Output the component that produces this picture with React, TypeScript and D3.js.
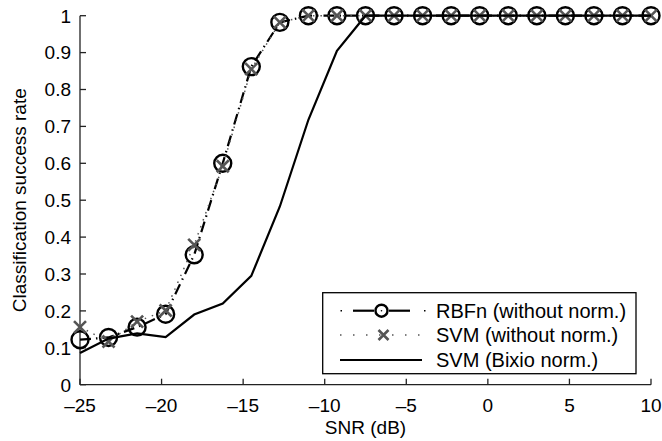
import React from "react";
import * as d3 from "d3";

const snr = [-25, -23.25, -21.5, -19.75, -18, -16.25, -14.5, -12.75, -11, -9.25, -7.5, -5.75, -4, -2.25, -0.5, 1.25, 3, 4.75, 6.5, 8.25, 10];
const rbfn = [0.122, 0.128, 0.156, 0.191, 0.352, 0.6, 0.862, 0.982, 1, 1, 1, 1, 1, 1, 1, 1, 1, 1, 1, 1, 1];
const svmRaw = [0.156, 0.117, 0.171, 0.201, 0.379, 0.592, 0.855, 0.982, 1, 1, 1, 1, 1, 1, 1, 1, 1, 1, 1, 1, 1];
const svmBixio = [0.086, 0.125, 0.139, 0.129, 0.19, 0.22, 0.295, 0.483, 0.718, 0.905, 1, 1, 1, 1, 1, 1, 1, 1, 1, 1, 1];
const xTicks = [-25, -20, -15, -10, -5, 0, 5, 10];
const yTicks = [0, 0.1, 0.2, 0.3, 0.4, 0.5, 0.6, 0.7, 0.8, 0.9, 1];
const legendLabels = ["RBFn (without norm.)", "SVM (without norm.)", "SVM (Bixio norm.)"];

const W = 662, H = 441;
const L = 80, R = 651, T = 15.7, B = 384.7;
const FONT = "'Liberation Sans', Arial, Helvetica, sans-serif";

const fmtX = (v: number) => (v < 0 ? "\u2013" + Math.abs(v) : String(v));
const fmtY = (v: number) => (v === 0 ? "0" : v === 1 ? "1" : d3.format(".1f")(v));

export default function App() {
  const x = d3.scaleLinear().domain([-25, 10]).range([L, R]);
  const y = d3.scaleLinear().domain([0, 1]).range([B, T]);
  const line = d3.line<number>().x((_, i) => x(snr[i])).y((d) => y(d));
  const gray = "#555";
  const xm = 6;
  const crossPath = (cx: number, cy: number, s: number) =>
    `M${cx - s},${cy - s}L${cx + s},${cy + s}M${cx - s},${cy + s}L${cx + s},${cy - s}`;

  const lx0 = 340, lx1 = 422, lmid = 381.5;
  const rows = [310.7, 335, 360];

  return (
    <svg width={W} height={H} style={{ position: "absolute", left: 0, top: 0, background: "#fff" }} fontFamily={FONT}>
      {/* axes */}
      <g stroke="#222" strokeWidth={1.3} fill="none">
        <line x1={L} y1={B} x2={R} y2={B} />
        <line x1={L} y1={B} x2={L} y2={T} />
        {xTicks.map((t) => (
          <line key={"xt" + t} x1={x(t)} x2={x(t)} y1={B} y2={B - 6} />
        ))}
        {yTicks.map((t) => (
          <line key={"yt" + t} x1={L} x2={L + 6} y1={y(t)} y2={y(t)} />
        ))}
      </g>
      <g fontSize={19} fill="#000">
        {xTicks.map((t) => (
          <text key={"xl" + t} x={x(t)} y={412} textAnchor="middle">{fmtX(t)}</text>
        ))}
        {yTicks.map((t) => (
          <text key={"yl" + t} x={71} y={y(t) + 6.8} textAnchor="end">{fmtY(t)}</text>
        ))}
        <text x={(L + R) / 2} y={434} textAnchor="middle">SNR (dB)</text>
        <text transform={`translate(26,${(T + B) / 2}) rotate(-90)`} textAnchor="middle">Classification success rate</text>
      </g>

      {/* RBFn dash-dot with circles */}
      <path d={line(rbfn) || ""} fill="none" stroke="#000" strokeWidth={2.2} strokeDasharray="11,5,1.5,5" />
      {rbfn.map((v, i) => (
        <circle key={"c" + i} cx={x(snr[i])} cy={y(v)} r={8.5} fill="none" stroke="#000" strokeWidth={2.4} />
      ))}
      {/* SVM without norm: dotted gray with crosses */}
      <path d={line(svmRaw) || ""} fill="none" stroke={gray} strokeWidth={1.5} strokeDasharray="1.5,6" />
      {svmRaw.map((v, i) => (
        <path key={"x" + i} d={crossPath(x(snr[i]), y(v), xm)} stroke={gray} strokeWidth={2.6} fill="none" />
      ))}
      {/* SVM Bixio: solid */}
      <path d={line(svmBixio) || ""} fill="none" stroke="#000" strokeWidth={2.2} />

      {/* legend */}
      <rect x={322.7} y={292.7} width={313.3} height={81} fill="#fff" stroke="#000" strokeWidth={1.3} />
      <g stroke="#000" strokeWidth={2.2}>
        <line x1={340.5} x2={342} y1={rows[0]} y2={rows[0]} strokeWidth={1.5} />
        <line x1={353} x2={374} y1={rows[0]} y2={rows[0]} />
        <line x1={389} x2={410} y1={rows[0]} y2={rows[0]} />
        <line x1={424} x2={425.5} y1={rows[0]} y2={rows[0]} strokeWidth={1.5} />
      </g>
      <circle cx={lmid} cy={rows[0]} r={6} fill="#fff" stroke="#000" strokeWidth={2.4} />
      <circle cx={lmid} cy={rows[0]} r={0.8} fill="#000" />
      <line x1={lx0} x2={lx1 + 6} y1={rows[1]} y2={rows[1]} stroke={gray} strokeWidth={1.5} strokeDasharray="1.5,11.5" />
      <path d={crossPath(lmid + 2, rows[1], 5)} stroke={gray} strokeWidth={2.6} fill="none" />
      <line x1={lx0} x2={lx1} y1={rows[2]} y2={rows[2]} stroke="#000" strokeWidth={2.2} />
      <g fontSize={20} fill="#000">
        {legendLabels.map((s, i) => (
          <text key={s} x={436} y={rows[i] + 7} textAnchor="start">{s}</text>
        ))}
      </g>
    </svg>
  );
}
